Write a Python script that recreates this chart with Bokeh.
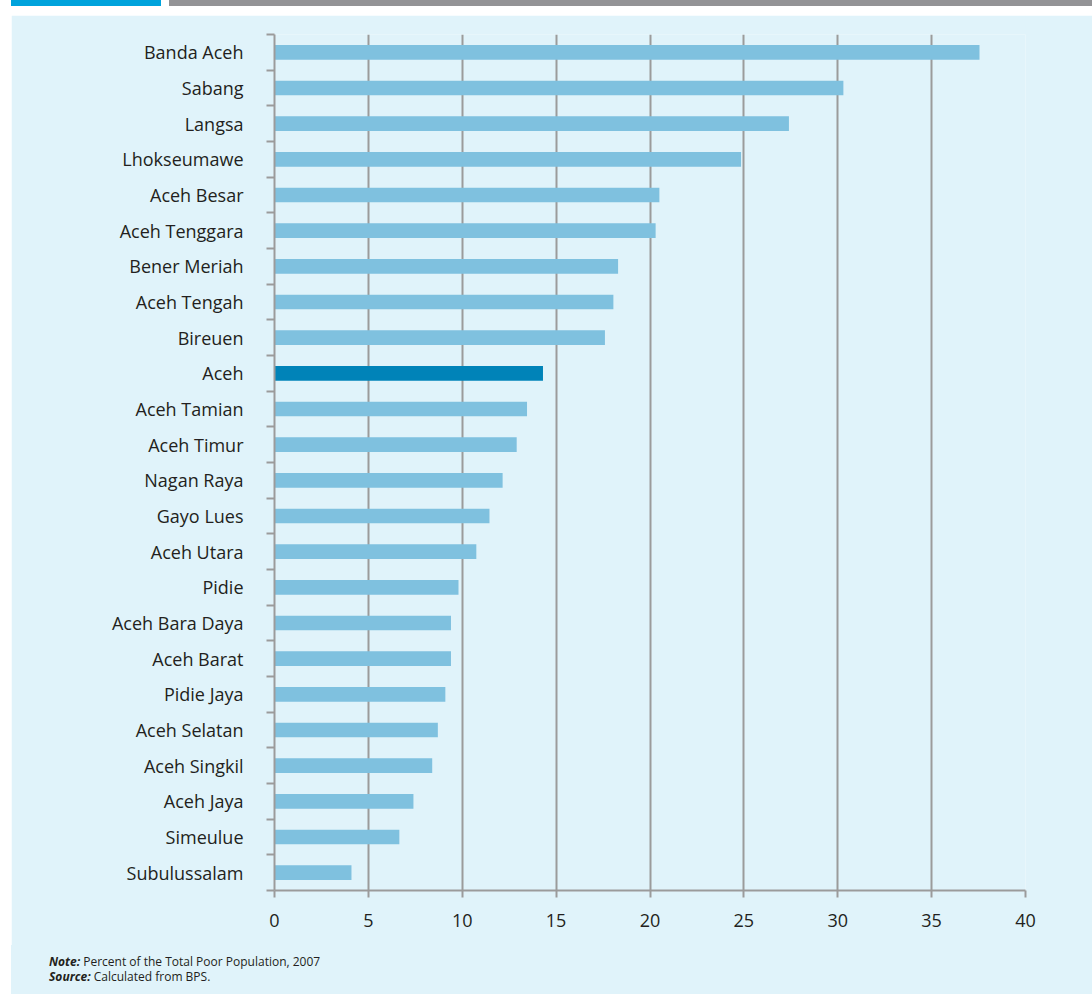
from bokeh.plotting import figure
from bokeh.models import (Range1d, FixedTicker, Div, Spacer, ColumnDataSource)
from bokeh.layouts import column, row
from bokeh.embed import file_html
from bokeh.resources import INLINE

# Data (top to bottom as shown)
categories = ["Banda Aceh", "Sabang", "Langsa", "Lhokseumawe", "Aceh Besar",
              "Aceh Tenggara", "Bener Meriah", "Aceh Tengah", "Bireuen", "Aceh",
              "Aceh Tamian", "Aceh Timur", "Nagan Raya", "Gayo Lues", "Aceh Utara",
              "Pidie", "Aceh Bara Daya", "Aceh Barat", "Pidie Jaya", "Aceh Selatan",
              "Aceh Singkil", "Aceh Jaya", "Simeulue", "Subulussalam"]
values = [37.55, 30.3, 27.4, 24.85, 20.5, 20.3, 18.3, 18.05, 17.6, 14.3,
          13.45, 12.9, 12.15, 11.45, 10.75, 9.8, 9.4, 9.4, 9.1, 8.7,
          8.4, 7.4, 6.65, 4.1]
highlight = "Aceh"
x_ticks = [0, 5, 10, 15, 20, 25, 30, 35, 40]
note_text = "Percent of the Total Poor Population, 2007"
source_text = "Calculated from BPS."

BG = "#e0f3fa"
BAR = "#7fc1df"
BAR_HI = "#0083b8"
GRAY = "#9b9b9b"
TXT = "#231f20"
FONT = "Open Sans"

n = len(categories)
ypos = [n - 1 - i for i in range(n)]
colors = [BAR_HI if c == highlight else BAR for c in categories]
src = ColumnDataSource(dict(y=ypos, v=values, c=colors, cat=categories))

p = figure(width=1081, height=930, output_backend="svg", toolbar_location=None,
           x_range=Range1d(0, 40), y_range=Range1d(-0.5, n - 0.5),
           min_border_left=263, min_border_right=67, min_border_top=19,
           min_border_bottom=55, margin=0)
p.background_fill_color = BG
p.border_fill_color = BG
p.outline_line_color = None

p.hbar(y="y", left=0, right="v", height=0.41, fill_color="c", line_color=None, source=src)

# x axis
p.xaxis.ticker = FixedTicker(ticks=x_ticks, minor_ticks=[])
p.xaxis.axis_line_color = GRAY
p.xaxis.axis_line_width = 2
p.xaxis.major_tick_line_color = GRAY
p.xaxis.major_tick_line_width = 2
p.xaxis.major_tick_out = 7
p.xaxis.major_tick_in = 0
p.xaxis.minor_tick_line_color = None
p.xaxis.major_label_text_font = FONT
p.xaxis.major_label_text_font_size = "18px"
p.xaxis.major_label_text_color = TXT
p.xaxis.major_label_standoff = 16

# y axis: labels at centers, ticks at boundaries (minor ticks)
p.yaxis.ticker = FixedTicker(ticks=ypos, minor_ticks=[k - 0.5 for k in range(n + 1)])
p.yaxis.major_label_overrides = {y: c for y, c in zip(ypos, categories)}
p.yaxis.axis_line_color = GRAY
p.yaxis.axis_line_width = 2
p.yaxis.major_tick_line_color = None
p.yaxis.major_tick_out = 0
p.yaxis.major_tick_in = 0
p.yaxis.minor_tick_line_color = GRAY
p.yaxis.minor_tick_line_width = 2
p.yaxis.minor_tick_out = 8
p.yaxis.minor_tick_in = 0
p.yaxis.major_label_text_font = FONT
p.yaxis.major_label_text_font_size = "18px"
p.yaxis.major_label_text_color = TXT
p.yaxis.major_label_standoff = 23

p.xgrid.ticker = FixedTicker(ticks=x_ticks)
p.xgrid.grid_line_color = GRAY
p.xgrid.grid_line_width = 2
p.ygrid.grid_line_color = None

notes = Div(text=(f'<div style="width:1081px;height:49px;background:{BG};box-sizing:border-box;'
                  f'padding:9px 0 0 38px;font-family:\'{FONT}\';font-size:12px;line-height:15px;color:{TXT}">'
                  f'<b><i>Note:</i></b> {note_text}<br>'
                  f'<b><i>Source:</i></b> {source_text}</div>'),
            width=1081, height=49, margin=0, styles={"background-color": BG})

header = Div(text=('<div style="position:relative;width:1092px;height:15px;background:#ffffff">'
                   '<div style="position:absolute;left:11px;top:0;width:150px;height:6px;background:#00a3dc"></div>'
                   '<div style="position:absolute;left:169px;top:0;width:923px;height:6px;background:#939396"></div>'
                   '</div>'), width=1092, height=15, margin=0)

layout = column(header,
                row(Spacer(width=11, height=979, margin=0),
                    column(p, notes, spacing=0, margin=0), spacing=0, margin=0),
                spacing=0, margin=0)

open("out.html", "w").write(file_html(layout, INLINE))
